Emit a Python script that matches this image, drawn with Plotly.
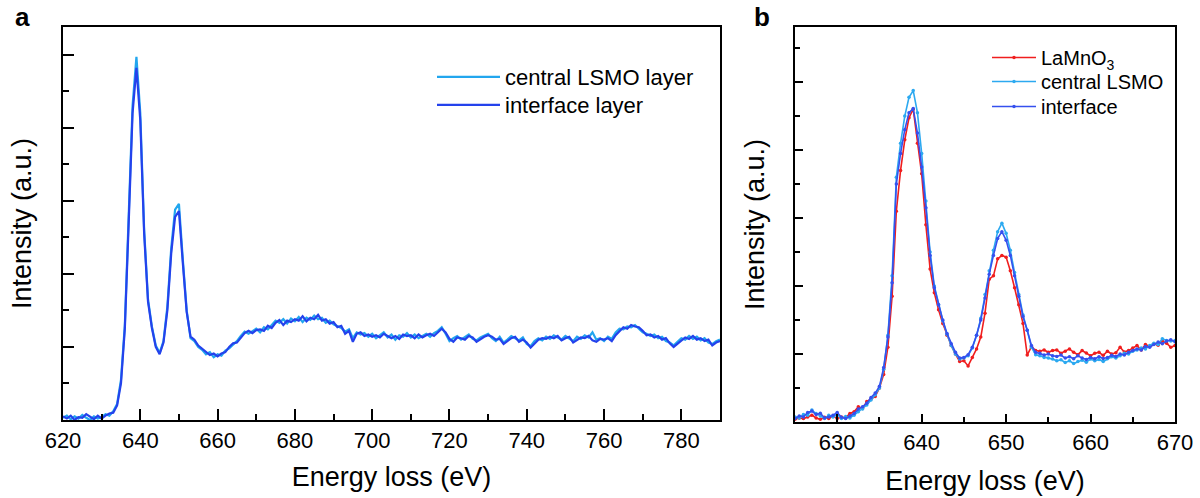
import plotly.graph_objects as go

# ---------------- data ----------------
# Panel a: energy grid (eV) and intensities (a.u.)
energy_a = list(range(620, 791))
central_a = [
    0.03, 0.06, 0.01, 0.05, 0.02, 0.07, 0.03, 0.00, 0.05, 0.02,
    0.04, 0.08, 0.06, 0.12, 0.22, 0.55, 1.30, 2.80, 4.30, 4.97,
    4.20, 2.60, 1.65, 1.28, 1.02, 0.92, 1.08, 1.55, 2.35, 2.88,
    2.96, 2.20, 1.50, 1.12, 1.08, 1.00, 0.96, 0.90, 0.93, 0.86,
    0.90, 0.88, 0.95, 0.98, 1.03, 1.08, 1.15, 1.21, 1.18, 1.22,
    1.25, 1.20, 1.27, 1.24, 1.30, 1.36, 1.33, 1.38, 1.32, 1.39,
    1.35, 1.41, 1.34, 1.40, 1.37, 1.43, 1.38, 1.40, 1.33, 1.36,
    1.31, 1.28, 1.26, 1.21, 1.24, 1.12, 1.20, 1.17, 1.19, 1.14,
    1.18, 1.12, 1.16, 1.20, 1.13, 1.17, 1.10, 1.16, 1.14, 1.19,
    1.13, 1.17, 1.12, 1.15, 1.18, 1.14, 1.19, 1.22, 1.27, 1.18,
    1.08, 1.12, 1.15, 1.10, 1.14, 1.17, 1.11, 1.09, 1.13, 1.16,
    1.18, 1.12, 1.08, 1.14, 1.06, 1.10, 1.15, 1.12, 1.09, 1.13,
    1.04, 1.01, 1.08, 1.12, 1.09, 1.14, 1.11, 1.16, 1.13, 1.10,
    1.15, 1.12, 1.08, 1.14, 1.11, 1.16, 1.13, 1.20, 1.10, 1.12,
    1.08, 1.14, 1.11, 1.20, 1.25, 1.24, 1.28, 1.27, 1.30, 1.25,
    1.20, 1.18, 1.15, 1.17, 1.12, 1.14, 1.08, 1.06, 1.02, 1.07,
    1.12, 1.10, 1.15, 1.11, 1.14, 1.09, 1.12, 1.06, 1.04, 1.08,
    1.10,
]
interface_a = [
    0.05, 0.02, 0.06, 0.00, 0.04, 0.03, 0.08, 0.04, 0.01, 0.06,
    0.02, 0.06, 0.09, 0.10, 0.20, 0.50, 1.25, 2.70, 4.20, 4.82,
    4.10, 2.55, 1.62, 1.26, 1.00, 0.90, 1.06, 1.50, 2.28, 2.78,
    2.86, 2.15, 1.48, 1.14, 1.10, 1.02, 0.98, 0.93, 0.89, 0.91,
    0.87, 0.91, 0.93, 1.00, 1.05, 1.06, 1.13, 1.19, 1.22, 1.19,
    1.23, 1.24, 1.22, 1.29, 1.26, 1.33, 1.37, 1.30, 1.36, 1.34,
    1.38, 1.36, 1.42, 1.35, 1.40, 1.38, 1.44, 1.36, 1.38, 1.32,
    1.34, 1.27, 1.29, 1.18, 1.22, 1.07, 1.18, 1.20, 1.15, 1.17,
    1.14, 1.16, 1.13, 1.18, 1.15, 1.12, 1.15, 1.11, 1.17, 1.15,
    1.16, 1.12, 1.17, 1.13, 1.16, 1.18, 1.15, 1.20, 1.25, 1.20,
    1.11, 1.07, 1.13, 1.12, 1.10, 1.15, 1.13, 1.07, 1.11, 1.14,
    1.16, 1.14, 1.10, 1.11, 1.04, 1.08, 1.12, 1.14, 1.07, 1.10,
    1.06, 0.99, 1.04, 1.10, 1.12, 1.11, 1.14, 1.12, 1.15, 1.09,
    1.12, 1.14, 1.06, 1.10, 1.13, 1.12, 1.15, 1.09, 1.07, 1.11,
    1.10, 1.12, 1.08, 1.16, 1.22, 1.27, 1.25, 1.30, 1.28, 1.27,
    1.22, 1.16, 1.17, 1.13, 1.15, 1.10, 1.12, 1.05, 1.00, 1.04,
    1.09, 1.13, 1.11, 1.15, 1.10, 1.12, 1.08, 1.10, 1.02, 1.06,
    1.08,
]

# Panel b: energy grid (eV, 0.5 eV steps) and intensities (a.u.)
energy_b = [625 + 0.5 * k for k in range(91)]
lamno3_b = [
    0.08, 0.12, 0.10, 0.15, 0.20, 0.12, 0.08, 0.14, 0.10, 0.18,
    0.10, 0.15, 0.12, 0.25, 0.30, 0.45, 0.40, 0.60, 0.68, 0.75,
    1.00, 1.40, 2.20, 3.70, 6.20, 7.40, 8.30, 8.95, 9.20, 8.20,
    7.30, 5.80, 4.50, 3.80, 3.30, 2.90, 2.55, 2.25, 2.00, 1.78,
    1.80, 1.65, 1.90, 2.15, 2.50, 3.20, 4.20, 4.30, 4.80, 4.90,
    4.85, 4.45, 3.95, 3.45, 2.90, 1.97, 2.22, 2.10, 2.08, 2.12,
    2.05, 2.10, 2.12, 2.02, 2.08, 2.15, 2.05, 1.98, 2.10, 2.03,
    1.95, 2.02, 2.05, 1.96, 2.08, 2.00, 2.04, 2.20, 2.06, 2.10,
    2.18, 2.25, 2.12, 2.28, 2.22, 2.30, 2.26, 2.38, 2.32, 2.20,
    2.25,
]
central_b = [
    0.15, 0.12, 0.22, 0.20, 0.35, 0.25, 0.18, 0.10, 0.20, 0.15,
    0.22, 0.10, 0.16, 0.12, 0.20, 0.30, 0.38, 0.50, 0.65, 0.80,
    1.00, 1.55, 2.55, 4.30, 7.20, 8.20, 9.00, 9.55, 9.75, 9.10,
    7.90, 6.50, 5.00, 4.00, 3.45, 2.98, 2.58, 2.25, 2.00, 1.85,
    1.88, 1.95, 2.18, 2.55, 3.05, 3.75, 4.45, 5.05, 5.60, 5.85,
    5.55, 5.05, 4.40, 3.75, 3.15, 2.70, 2.20, 1.98, 1.95, 1.90,
    1.88, 1.85, 1.80, 1.83, 1.75, 1.80, 1.72, 1.78, 1.82, 1.76,
    1.85, 1.80, 1.84, 1.78, 1.86, 1.92, 1.88, 1.95, 2.02, 2.00,
    2.08, 2.12, 2.18, 2.15, 2.25, 2.32, 2.28, 2.45, 2.40, 2.38,
    2.40,
]
interface_b = [
    0.10, 0.18, 0.15, 0.28, 0.32, 0.22, 0.26, 0.12, 0.15, 0.20,
    0.28, 0.14, 0.10, 0.18, 0.25, 0.38, 0.45, 0.55, 0.72, 0.85,
    1.05, 1.60, 2.50, 4.10, 7.00, 7.90, 8.60, 9.10, 9.22, 8.50,
    7.50, 6.30, 4.90, 3.95, 3.45, 3.00, 2.60, 2.30, 2.05, 1.88,
    1.90, 1.98, 2.20, 2.55, 3.00, 3.65, 4.35, 4.90, 5.40, 5.60,
    5.35, 4.90, 4.30, 3.70, 3.10, 2.70, 2.25, 2.05, 2.02, 1.97,
    2.00, 1.95, 1.93, 1.97, 1.88, 1.92, 1.86, 1.95, 1.88, 1.84,
    1.90, 1.86, 1.92, 1.87, 1.90, 1.96, 1.93, 2.00, 1.97, 2.05,
    2.10, 2.15, 2.12, 2.22, 2.20, 2.28, 2.35, 2.30, 2.38, 2.42,
    2.36,
]

names_a = ["central LSMO layer", "interface layer"]
names_b = ["LaMnO<sub>3</sub>", "central LSMO", "interface"]
xticks_a = [620, 640, 660, 680, 700, 720, 740, 760, 780]
xticks_b = [630, 640, 650, 660, 670]

# ---------------- styling ----------------
W, H = 1200, 498
FONT = "Arial, 'Liberation Sans', sans-serif"
C_LIGHT = "#22A6EE"
C_DARK = "#2442EC"
C_RED = "#F01E1E"
C_LIGHT_B = "#2CA9F0"
C_DARK_B = "#3550EE"

def fx(px):
    return px / W

def fy(py):
    return 1 - py / H

fig = go.Figure()

# each legend entry gets its own legend box so the row spacing matches
fig.add_trace(go.Scatter(x=energy_a, y=central_a, name=names_a[0], mode="lines",
                         line=dict(color=C_LIGHT, width=2.2), legend="legend",
                         xaxis="x", yaxis="y"))
fig.add_trace(go.Scatter(x=energy_a, y=interface_a, name=names_a[1], mode="lines",
                         line=dict(color=C_DARK, width=2.2), legend="legend2",
                         xaxis="x", yaxis="y"))

for ys, nm, col, lg in [(lamno3_b, names_b[0], C_RED, "legend3"),
                        (central_b, names_b[1], C_LIGHT_B, "legend4"),
                        (interface_b, names_b[2], C_DARK_B, "legend5")]:
    fig.add_trace(go.Scatter(x=energy_b, y=ys, name=nm, mode="lines+markers",
                             line=dict(color=col, width=1.6),
                             marker=dict(color=col, size=3.5),
                             legend=lg, xaxis="x2", yaxis="y2"))

axis_common = dict(showline=True, linecolor="black", linewidth=2, mirror=True,
                   ticks="inside", tickcolor="black", tickwidth=1.6,
                   showgrid=False, zeroline=False, automargin=False)

def leg(px_x, px_top, size, iw):
    return dict(x=fx(px_x), y=fy(px_top), xanchor="left", yanchor="top",
                font=dict(size=size), bgcolor="rgba(0,0,0,0)", itemwidth=iw,
                tracegroupgap=0)

fig.update_layout(
    width=W, height=H,
    margin=dict(l=0, r=0, t=0, b=0),
    paper_bgcolor="white", plot_bgcolor="white",
    font=dict(family=FONT, color="black"),
    xaxis=dict(domain=[fx(63), fx(720)], range=[620, 790], tickvals=xticks_a,
               ticklen=11, minor=dict(dtick=10, tick0=620, ticks="inside", ticklen=6,
                                      tickcolor="black", tickwidth=1.6),
               tickfont=dict(size=22), anchor="y",
               title=dict(text="Energy loss (eV)", font=dict(size=27), standoff=15),
               **axis_common),
    yaxis=dict(domain=[fy(420), fy(27)], range=[0, 5.38], dtick=1, tick0=0,
               ticklen=11, showticklabels=False, anchor="x",
               minor=dict(dtick=0.5, tick0=0, ticks="inside", ticklen=6,
                          tickcolor="black", tickwidth=1.6),
               title=dict(text="Intensity (a.u.)", font=dict(size=27), standoff=22),
               **axis_common),
    xaxis2=dict(domain=[fx(795), fx(1175)], range=[625, 670], tickvals=xticks_b,
                ticklen=8, minor=dict(dtick=5, tick0=625, ticks="inside", ticklen=5,
                                      tickcolor="black", tickwidth=1.6),
                tickfont=dict(size=22), anchor="y2",
                title=dict(text="Energy loss (eV)", font=dict(size=27), standoff=17),
                **axis_common),
    yaxis2=dict(domain=[fy(422), fy(27)], range=[0, 11.62], dtick=2, tick0=0,
                ticklen=8, showticklabels=False, anchor="x2",
                minor=dict(dtick=1, tick0=0, ticks="inside", ticklen=5,
                           tickcolor="black", tickwidth=1.6),
                title=dict(text="Intensity (a.u.)", font=dict(size=27), standoff=21),
                **axis_common),
    legend=leg(432, 56, 22, 63),
    legend2=leg(432, 84, 22, 63),
    legend3=leg(987, 38, 20, 44),
    legend4=leg(987, 62, 20, 44),
    legend5=leg(987, 87, 20, 44),
    showlegend=True,
    annotations=[
        dict(text="<b>a</b>", x=fx(22), y=fy(17), xref="paper", yref="paper",
             showarrow=False, font=dict(size=26, family=FONT),
             xanchor="center", yanchor="middle"),
        dict(text="<b>b</b>", x=fx(762), y=fy(17), xref="paper", yref="paper",
             showarrow=False, font=dict(size=26, family=FONT),
             xanchor="center", yanchor="middle"),
    ],
)

fig.write_html("out.html")
